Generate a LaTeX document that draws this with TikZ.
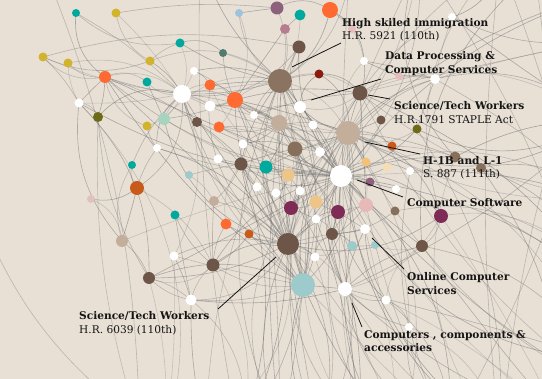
\documentclass[tikz,border=0pt]{standalone}
\usepackage{fontspec}
\setmainfont{DejaVu Serif}
\usetikzlibrary{backgrounds}
\definecolor{bg}{HTML}{E8E0D5}
\definecolor{cteal}{HTML}{00A99D}
\definecolor{cmust}{HTML}{D1B42B}
\definecolor{clblue}{HTML}{9DC4DC}
\definecolor{cgg}{HTML}{527B70}
\definecolor{corange}{HTML}{FF6A33}
\definecolor{colive}{HTML}{6F6A17}
\definecolor{cmint}{HTML}{A6D4BE}
\definecolor{cbrown}{HTML}{6D5547}
\definecolor{crust}{HTML}{C85A1B}
\definecolor{clteal}{HTML}{9DCACA}
\definecolor{cmauve}{HTML}{8D607B}
\definecolor{cpmauve}{HTML}{B47D90}
\definecolor{clpink}{HTML}{E6BDBD}
\definecolor{cdred}{HTML}{8B1A10}
\definecolor{ctanbr}{HTML}{8B7361}
\definecolor{ctan}{HTML}{C2AE9A}
\definecolor{cmbrown}{HTML}{86705C}
\definecolor{clorange}{HTML}{F3C277}
\definecolor{ccream}{HTML}{F5DEB3}
\definecolor{cpeach}{HTML}{EEC589}
\definecolor{cmaroon}{HTML}{7E2C55}
\definecolor{cpink}{HTML}{E8B9B9}
\definecolor{cppink}{HTML}{E3C1C1}
\definecolor{ink}{HTML}{141414}
\begin{document}
\begin{tikzpicture}[x=1pt,y=-1pt,
  dot/.style={circle,inner sep=0pt,draw=none},
  edge/.style={draw=black!55,line width=0.6pt},
  leader/.style={draw=ink,line width=0.8pt},
  lbl/.style={inner sep=0pt,anchor=base west,text=ink,font=\fontsize{10.6}{12}\selectfont},
  lblb/.style={lbl,font=\fontsize{10.6}{12}\selectfont\bfseries}]
\useasboundingbox (0,0) rectangle (542,379);
% nodes
\foreach \n/\x/\y/\d/\c in {
 a1/76/13/8/cteal, a2/116/13/9/cmust, a3/239/13/8/clblue, a4/180/43/9/cteal,
 a5/223/53/8/cgg, a6/43/57/9/cmust, a7/68/63/9/cmust, a8/150/61/9/cmust,
 a9/105/77/12/corange, a10/194/71/8/white, a11/147/82/9/cteal, a12/210/85/11/corange,
 a13/182/94/18/white, a14/235/100/16/corange, a15/210/106/11/white, a16/79/103/9/white,
 a17/98/117/10/colive, a18/164/119/12/cmint, a19/147/126/9/cmust, a20/197/122/10/cbrown,
 a21/219/127/11/corange, a22/254/115/8/white, a23/243/144/9/white, a24/157/148/8/white,
 a25/218/159/9/white, a26/241/164/13/cbrown, a27/266/167/13/cteal, a28/132/165/8/cteal,
 a29/189/175/8/clteal, a30/257/187/9/white, a31/137/188/14/crust, a32/276/193/9/white,
 b1/277/8/13/cmauve, b2/300/15/11/cteal, b3/330/10/16/corange, b4/285/29/10/cpmauve,
 b5/352/29/8/clpink, b6/452/17/8/white, b7/299/47/13/cbrown, b8/364/61/8/white,
 b9/319/74/9/cdred, b10/399/76/8/clpink, b11/280/81/24/ctanbr, b12/435/79/10/white,
 b13/360/93/15/cbrown, b14/300/107/12/white, b15/279/123/16/ctan, b16/313/125/9/white,
 b17/381/120/9/cbrown, b18/417/129/9/colive, b19/348/133/24/ctan, b20/295/149/15/cmbrown,
 b21/392/146/9/crust, b22/320/152/10/white, b23/455/157/11/cmbrown, b24/481/168/10/cmbrown,
 b25/366/162/9/clorange, b26/387/167/9/ccream, b27/410/171/8/white, b28/288/175/13/cpeach,
 b29/341/176/22/white, b30/370/182/9/cmauve, b31/396/189/8/white,
 c1/300/191/9/white, c2/316/202/13/cpeach, c3/214/201/10/ctan, c4/291/208/14/cmaroon,
 c5/338/212/14/cmaroon, c6/175/215/9/cteal, c7/366/205/14/cpink, c8/395/211/9/cmbrown,
 c9/441/216/14/cmaroon, c10/226/224/11/corange, c11/316/219/9/white, c12/91/199/8/cppink,
 c13/365/229/10/white, c14/249/234/9/crust, c15/332/234/12/cbrown, c16/288/244/22/cbrown,
 c17/352/246/10/clteal, c18/375/245/8/clteal, c19/422/246/12/cbrown, c20/315/257/9/white,
 c21/174/256/9/white, c22/122/241/12/ctan, c23/213/265/13/cbrown, c24/149/278/12/cbrown,
 c25/303/285/24/clteal, c26/345/289/14/white, c27/386/300/9/white, c28/409/327/8/white,
 c29/191/300/11/white}
 {\node[dot,minimum size=\d pt,fill=\c] (\n) at (\x,\y) {};}
% off-frame ends
\coordinate (BB1) at (140,430); \coordinate (BB2) at (165,440); \coordinate (BB3) at (205,430);
\coordinate (BB4) at (240,440); \coordinate (BB5) at (280,430); \coordinate (BB6) at (320,440);
\coordinate (BB7) at (360,430); \coordinate (BB8) at (400,440); \coordinate (BB9) at (450,430);
\coordinate (BB10) at (500,440); \coordinate (BB11) at (560,420); \coordinate (BB12) at (620,400);
\coordinate (RR1) at (600,40); \coordinate (RR2) at (600,120); \coordinate (RR3) at (600,200);
\coordinate (RR4) at (600,280); \coordinate (RR5) at (600,360); \coordinate (RR6) at (610,-10);
\coordinate (TT1) at (350,-40); \coordinate (TT2) at (420,-40); \coordinate (TT3) at (500,-40);
\coordinate (TT4) at (535,-30); \coordinate (TT5) at (200,-40); \coordinate (TT6) at (45,-30);
\coordinate (LL1) at (-40,150);
\begin{pgfonlayer}{background}
\fill[bg] (0,0) rectangle (542,379);
\pgfmathsetseed{12}
\foreach \s/\t in {
 b29/a13, b29/a14, b29/a9, b29/a12, b29/a20, b29/a21, b29/a26, b29/a27, b29/b7, b29/b11,
 b29/b13, b29/b14, b29/b15, b29/b16, b29/b17, b29/b19, b29/b20, b29/b22, b29/b25, b29/b26,
 b29/b27, b29/b28, b29/b30, b29/b31, b29/c2, b29/c4, b29/c5, b29/c7, b29/c9, b29/c13,
 b29/c15, b29/c16, b29/c19, b29/c20, b29/c25, b29/c26, b29/c27, b29/c28, b29/b23, b29/b24,
 b29/b12, b29/b18, b29/BB7, b29/BB9, b29/BB10, b29/RR3, b29/RR4, b29/TT2, b29/a16, b29/c22, b29/c24,
 c16/a13, c16/a14, c16/a26, c16/a27, c16/a30, c16/a32, c16/b11, c16/b15, c16/b19, c16/b20,
 c16/b28, c16/c1, c16/c2, c16/c4, c16/c5, c16/c10, c16/c14, c16/c15, c16/c17, c16/c20,
 c16/c21, c16/c23, c16/c25, c16/c26, c16/c29, c16/c24, c16/BB3, c16/BB4, c16/BB5, c16/BB6,
 c16/a18, c16/a24, c16/c3, c16/a9, c16/b13, c16/c7, c16/c9,
 b19/b11, b19/b13, b19/b14, b19/b17, b19/b18, b19/b21, b19/b22, b19/b25, b19/b26, b19/b8,
 b19/b9, b19/b12, b19/a14, b19/a22, b19/a23, b19/c7, b19/c9, b19/c15, b19/b23, b19/RR2,
 b19/TT2, b19/TT3, b19/a13, b19/c25, b19/BB8,
 b11/a13, b11/a14, b11/a12, b11/a10, b11/a5, b11/a3, b11/b1, b11/b2, b11/b3, b11/b4,
 b11/b7, b11/b9, b11/b14, b11/b15, b11/a22, b11/a26, b11/a27, b11/TT1, b11/TT5, b11/a4,
 b11/a8, b11/c25, b11/BB5, b11/a9, b11/a18, b11/b13,
 c25/c26, c25/c21, c25/c23, c25/c29, c25/c24, c25/a26, c25/b15, c25/b20, c25/BB5, c25/BB6,
 c25/BB7, c25/BB8, c25/c1, c25/c11, c25/a13, c25/a9,
 c26/c27, c26/c28, c26/c13, c26/c19, c26/c15, c26/BB8, c26/BB9, c26/BB10, c26/c9, c26/b13,
 c26/b19, c26/a14, c26/c29,
 a13/a4, a13/a8, a13/a9, a13/a10, a13/a11, a13/a12, a13/a15, a13/a16, a13/a17, a13/a18,
 a13/a19, a13/a20, a13/a24, a13/a28, a13/a6, a13/a7, a13/a2, a13/a1, a13/c21, a13/a31,
 a13/a14, a13/b7,
 b13/b8, b13/b12, b13/b17, b13/b9, b13/b14, b13/a14, b13/c7, b13/b6, b13/TT2, b13/a22,
 b20/b15, b20/b14, b20/a23, b20/a26, b20/a27, b20/b22, b20/c4, b20/c2, b20/a21, b20/a15,
 b20/BB4, b20/c11,
 b15/a14, b15/a22, b15/a23, b15/b14, b15/a15, b15/a21, b15/b7, b15/c4, b15/BB3,
 a14/a12, a14/a15, a14/a21, a14/a10, a14/a5, a14/a22, a14/a26, a14/a18, a14/a3, a14/b4,
 c15/c5, c15/c13, c15/c17, c15/c11, c15/c20, c15/BB7, c15/c7, c15/c8,
 b28/a30, b28/a32, b28/c1, b28/a27, b28/b22,
 a26/a25, a26/a23, a26/a30, a26/c3, a26/a29, a26/c10,
 c4/c2, c4/c11, c4/a32, c4/c14, c4/c1, c4/BB5,
 c5/c2, c5/c7, c5/c13, c5/c11, c5/BB8,
 b14/b16, b14/b22, b14/a22, b14/b9, b14/b7,
 a6/a16, a7/a16, a6/a8, a6/b7, a1/a4, a2/b1, a9/a16, a9/a17, a16/a17, a16/c24,
 a17/BB1, a16/BB2, a31/c22, c22/c24, c24/c29, c12/c22, c12/a31, c6/c29, c21/c29,
 c23/c29, c24/c23, c23/b29, a24/a31, a28/a31, a28/c22, a31/c23, c6/c23, c3/c23, c10/c23,
 c14/c23, a29/c3, a7/a9, a6/a9, a2/a8, a1/a9, a9/a11, a9/a19, a17/c24, a16/c22, a19/a24,
 a11/a18, a8/a4, a4/a5, a10/a12, a3/b1, b1/b3, b2/b4, b3/b8, b5/b8, b5/b3, b6/b12, b12/b8,
 b12/RR1, b6/TT3, b6/RR1, b23/RR2, b24/RR3, b24/RR4, c9/RR4, c19/RR5, c28/BB10, c27/BB11,
 b18/RR2, b27/RR3, c8/RR4, c9/c19, c19/c27, c27/c28, c13/c27, c17/c18, c18/c19, b23/b24,
 b21/b23, b18/b12, b10/b12, b10/b8, c29/BB3, c29/BB4, c21/BB2, c24/BB2, c23/BB4, c20/BB6,
 c1/BB6, c11/BB7, c28/BB9, c27/BB9,
 b29/RR5, b19/RR3, b19/RR4, c16/BB7, c16/BB8, c26/RR5, b13/RR2, b12/RR2, c9/BB11, c19/BB11,
 b24/BB11, b23/BB10, b18/BB10, b27/BB9, c7/BB9, c13/BB8, b11/BB6, b15/BB5, b20/BB6, a26/BB4,
 a27/BB5, c25/BB9, c26/BB11, b29/BB11, b19/BB10, b19/RR5, b13/RR3, b13/RR4, b12/RR3, b6/RR2,
 TT3/c9, TT4/c19, TT2/b23, RR6/b29, RR6/b19, RR1/b13, RR2/c26, BB12/b19, BB12/b13, BB12/b29,
 c16/b29, b19/c16, b11/c16, a13/c16, a14/c16, b13/c16, c25/b19, c25/b11, b29/b11, a13/b19,
 a14/b29, a26/b29, a27/b19, b20/b19, b15/b29, c4/b19, c5/b11, c2/b11, b28/b19, c15/b19,
 a13/c25, a9/c16, a9/b29, a12/c16, a21/b29, a20/c25, a18/b29, a24/b29, a23/c25, a25/b29}
 {\pgfmathsetmacro\bb{34*rand}\pgfmathsetmacro\op{0.28+0.3*rnd}
  \draw[edge,draw opacity=\op] (\s.center) to[bend left=\bb] (\t.center);}
\foreach \s/\t/\b in {TT4/BB11/4, TT3/BB10/-6, TT6/BB1/10, LL1/BB2/-20, RR1/BB9/8,
 TT1/BB7/-5, c24/c29/12, TT2/RR5/10, TT5/BB4/-6, RR6/BB10/-8, TT3/BB12/5}
 {\draw[edge,draw opacity=0.4] (\s.center) to[bend left=\b] (\t.center);}
\end{pgfonlayer}
% labels
\node[lblb] (l1a) at (342,27) {High skiled immigration};
\node[lbl]  (l1b) at (342,40) {H.R. 5921 (110th)};
\node[lblb] (l2a) at (385,60) {Data Processing \&};
\node[lblb] (l2b) at (385,74) {Computer Services};
\node[lblb] (l3a) at (394,110) {Science/Tech Workers};
\node[lbl]  (l3b) at (394,124) {H.R.1791 STAPLE Act};
\node[lblb] (l4a) at (423,165) {H-1B and L-1};
\node[lbl]  (l4b) at (423,178) {S. 887 (111th)};
\node[lblb] (l5)  at (407,207) {Computer Software};
\node[lblb] (l6a) at (407,281) {Online Computer};
\node[lblb] (l6b) at (407,295) {Services};
\node[lblb] (l7a) at (364,339) {Computers , components \&};
\node[lblb] (l7b) at (364,352) {accessories};
\node[lblb] (l8a) at (79,320) {Science/Tech Workers};
\node[lbl]  (l8b) at (79,334) {H.R. 6039 (110th)};
% leader lines
\coordinate (p1a) at (292,67); \coordinate (p1b) at (341,43);
\coordinate (p2a) at (311,100); \coordinate (p2b) at (381,79);
\coordinate (p3a) at (368,95); \coordinate (p3b) at (390,99);
\coordinate (p4a) at (365,142); \coordinate (p4b) at (420,154);
\coordinate (p5a) at (357,180); \coordinate (p5b) at (403,197);
\coordinate (p6a) at (372,238); \coordinate (p6b) at (404,269);
\coordinate (p7a) at (352,303); \coordinate (p7b) at (362,327);
\coordinate (p8a) at (276,257); \coordinate (p8b) at (218,309);
\foreach \u in {1,...,8} {\draw[leader] (p\u a) -- (p\u b);}
\end{tikzpicture}
\end{document}
